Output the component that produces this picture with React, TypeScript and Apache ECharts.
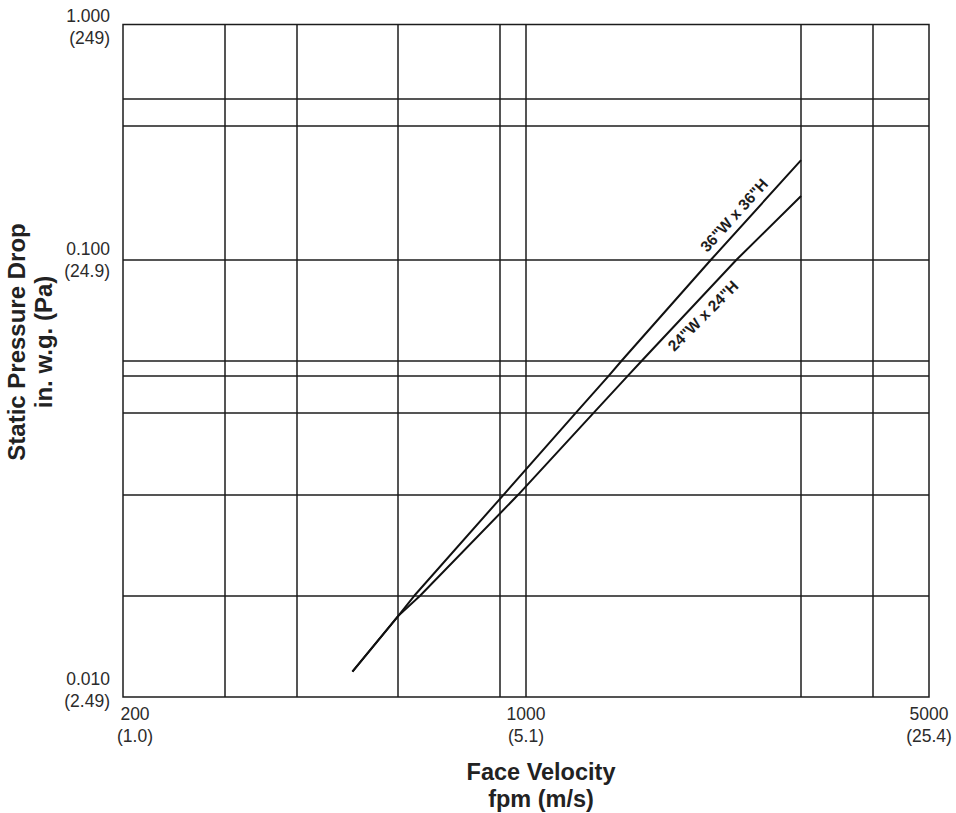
import React, { useEffect, useRef } from 'react';
import * as echarts from 'echarts';

// ---- data (log-log chart) ----
const xTickValues = [200, 1000, 5000];
const xTickLabels = ['200\n(1.0)', '1000\n(5.1)', '5000\n(25.4)'];
const xGridValues = [300, 400, 600, 900, 1000, 3000, 4000];

// the reference prints "0.100" on the grid line that sits at 0.2 on the log scale
const yTickValues = [0.01, 0.2, 1];
const yTickLabels = ['0.010\n(2.49)', '0.100\n(24.9)', '1.000\n(249)'];
const yGridValues = [0.02, 0.04, 0.07, 0.09, 0.1, 0.2, 0.5, 0.6];

const seriesNames = ['36"W x 36"H', '24"W x 24"H'];
const velocity36 = [500, 600, 640, 915, 1220, 1390, 1465, 2095, 3000];
const pressure36 = [0.0119, 0.0174, 0.02, 0.04, 0.07, 0.09, 0.1, 0.2, 0.395];
const velocity24 = [500, 600, 655, 970, 1310, 1500, 1588, 2320, 3000];
const pressure24 = [0.0119, 0.0174, 0.02, 0.04, 0.07, 0.09, 0.1, 0.2, 0.309];

// label anchor points (fpm, in. w.g.) and their angles
const labelVelocity = [2295, 2028];
const labelPressure = [0.271, 0.136];
const labelAngle = [48, 45];

const FONT = '"Liberation Sans", Arial, Helvetica, sans-serif';
const INK = '#1c1c1c';
const lg = (v: number) => Math.log10(v);

function findIndex(values: number[], v: number) {
  for (let i = 0; i < values.length; i++) {
    if (Math.abs(lg(values[i]) - v) < 1e-6) return i;
  }
  return -1;
}

function buildOption(): any {
  const s36 = velocity36.map((v, i) => [lg(v), lg(pressure36[i])]);
  const s24 = velocity24.map((v, i) => [lg(v), lg(pressure24[i])]);
  const mkLabel = (i: number) => ({
    symbol: 'circle',
    symbolSize: 0,
    data: [
      {
        coord: [lg(labelVelocity[i]), lg(labelPressure[i])],
        label: {
          show: true,
          position: 'inside',
          formatter: seriesNames[i],
          rotate: labelAngle[i],
          fontFamily: FONT,
          fontWeight: 'bold',
          fontSize: 15.5,
          color: INK,
        },
      },
    ],
  });
  return {
    animation: false,
    backgroundColor: '#ffffff',
    textStyle: { fontFamily: FONT },
    grid: {
      left: 123,
      right: 27,
      top: 23,
      bottom: 116,
      show: true,
      borderColor: INK,
      borderWidth: 1.5,
      backgroundColor: 'transparent',
    },
    xAxis: {
      type: 'value',
      min: lg(200),
      max: lg(5000),
      axisLine: { show: false },
      axisTick: { show: false, customValues: xGridValues.map(lg) },
      splitLine: { show: true, lineStyle: { color: INK, width: 1.5 } },
      axisLabel: {
        customValues: xTickValues.map(lg),
        margin: 6,
        fontSize: 17.5,
        lineHeight: 22,
        color: '#2b2b2b',
        fontFamily: FONT,
        formatter: (v: number) => {
          const i = findIndex(xTickValues, v);
          if (i < 0) return '';
          if (i === 0) {
            return xTickLabels[0]
              .split('\n')
              .map((s) => '{f|' + s + '}')
              .join('\n');
          }
          return xTickLabels[i];
        },
        rich: {
          f: { padding: [0, 0, 0, 24], fontSize: 17.5, lineHeight: 22, color: '#2b2b2b', fontFamily: FONT },
        },
      },
    },
    yAxis: {
      type: 'value',
      min: -2,
      max: 0,
      axisLine: { show: false },
      axisTick: { show: false, customValues: yGridValues.map(lg) },
      splitLine: { show: true, lineStyle: { color: INK, width: 1.5 } },
      axisLabel: {
        customValues: yTickValues.map(lg),
        margin: 13,
        fontSize: 17.5,
        lineHeight: 22,
        color: '#2b2b2b',
        fontFamily: FONT,
        formatter: (v: number) => {
          const i = findIndex(yTickValues, v);
          if (i < 0) return '';
          if (i === 0) return yTickLabels[0] + '\n{lo| }';
          if (i === yTickValues.length - 1) return '{hi| }\n' + yTickLabels[i];
          return yTickLabels[i];
        },
        rich: {
          lo: { lineHeight: 14, fontSize: 1 },
          hi: { lineHeight: 5, fontSize: 1 },
        },
      },
    },
    series: [
      {
        name: seriesNames[0],
        type: 'line',
        data: s36,
        showSymbol: false,
        symbol: 'none',
        lineStyle: { color: '#111', width: 2 },
        markPoint: mkLabel(0),
        z: 3,
      },
      {
        name: seriesNames[1],
        type: 'line',
        data: s24,
        showSymbol: false,
        symbol: 'none',
        lineStyle: { color: '#111', width: 2 },
        markPoint: mkLabel(1),
        z: 3,
      },
    ],
    graphic: [
      {
        type: 'text',
        x: 30,
        y: 342,
        rotation: Math.PI / 2,
        style: {
          text: 'Static Pressure Drop\nin. w.g. (Pa)',
          fontFamily: FONT,
          fontWeight: 'bold',
          fontSize: 24,
          lineHeight: 27,
          fill: '#222',
          align: 'center',
          verticalAlign: 'middle',
        },
      },
      {
        type: 'text',
        x: 541,
        y: 785,
        style: {
          text: 'Face Velocity\nfpm (m/s)',
          fontFamily: FONT,
          fontWeight: 'bold',
          fontSize: 23.5,
          lineHeight: 27,
          fill: '#222',
          align: 'center',
          verticalAlign: 'middle',
        },
      },
    ],
  };
}

export default function App() {
  const ref = useRef<HTMLDivElement>(null);
  useEffect(() => {
    if (!ref.current) return;
    const chart = echarts.init(ref.current, null, { renderer: 'svg' });
    chart.setOption(buildOption());
    return () => chart.dispose();
  }, []);
  return (
    <div
      ref={ref}
      style={{ position: 'absolute', left: 0, top: 0, width: '956px', height: '813px', background: '#fff' }}
    />
  );
}
